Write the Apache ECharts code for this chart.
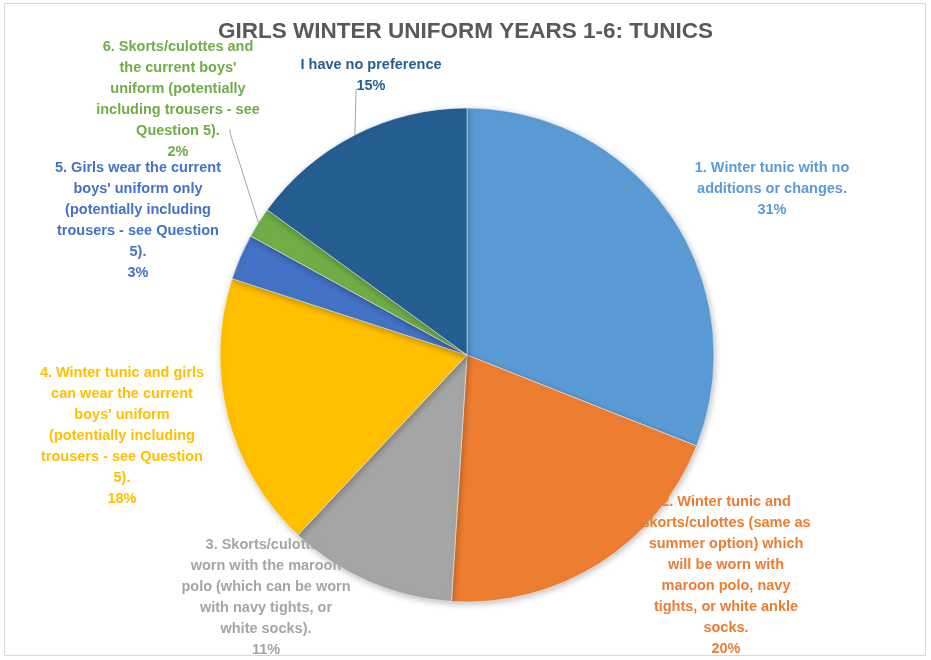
<!DOCTYPE html>
<html>
<head>
<meta charset="utf-8">
<script src="https://cdn.jsdelivr.net/npm/echarts@6/dist/echarts.min.js"></script>
<style>
html,body{margin:0;padding:0;background:#fff;}
#chart{width:931px;height:660px;}
</style>
</head>
<body>
<div id="chart"></div>
<script>
const title = 'GIRLS WINTER UNIFORM YEARS 1-6: TUNICS';
const categories = [
  '1. Winter tunic with no\nadditions or changes.',
  '2. Winter tunic and\nskorts/culottes (same as\nsummer option) which\nwill be worn with\nmaroon polo, navy\ntights, or white ankle\nsocks.',
  '3. Skorts/culottes\nworn with the maroon\npolo (which can be worn\nwith navy tights, or\nwhite socks).',
  '4. Winter tunic and girls\ncan wear the current\nboys\' uniform\n(potentially including\ntrousers - see Question\n5).',
  '5. Girls wear the current\nboys\' uniform only\n(potentially including\ntrousers - see Question\n5).',
  '6. Skorts/culottes and\nthe current boys\'\nuniform (potentially\nincluding trousers - see\nQuestion 5).',
  'I have no preference'
];
const values = [31, 20, 11, 18, 3, 2, 15];
const colors = ['#5B9BD5', '#ED7D31', '#A5A5A5', '#FFC000', '#4472C4', '#70AD47', '#255E91'];

// layout only: label box centres and leader-line end points
const labelPos = [[772,188.5],[726,575],[266,597],[122,436],[138,220.5],[178,99],[371,75.5]];
const leaderEnd = [null,null,null,null,null,[230,128],[356,88]];

const PIE_CENTER = [467, 355];
const PIE_R = 247;

const chart = echarts.init(document.getElementById('chart'));
chart.setOption({
  backgroundColor: '#fff',
  animation: false,
  title: {
    text: title,
    left: 'center',
    top: 15,
    textStyle: {fontFamily: 'Liberation Sans', fontWeight: 'bold', fontSize: 22.5, color: '#595959'}
  },
  graphic: [{
    type: 'rect',
    shape: {x: 4.5, y: 3.5, width: 921, height: 652},
    style: {fill: 'none', stroke: '#d9d9d9', lineWidth: 1},
    silent: true
  }],
  series: [{
    type: 'pie',
    center: PIE_CENTER,
    radius: PIE_R,
    startAngle: 90,
    clockwise: true,
    avoidLabelOverlap: false,
    data: categories.map((c, i) => ({
      name: c,
      value: values[i],
      itemStyle: {color: colors[i]},
      label: {color: colors[i]}
    })),
    itemStyle: {
      borderColor: '#fff', borderWidth: 0.5,
      shadowBlur: 6, shadowColor: 'rgba(0,0,0,0.25)', shadowOffsetX: 1, shadowOffsetY: 2
    },
    label: {
      show: true,
      position: 'outside',
      formatter: '{b}\n{d}%',
      fontFamily: 'Liberation Sans',
      fontWeight: 'bold',
      fontSize: 14.5,
      lineHeight: 21,
      align: 'center'
    },
    labelLine: {show: false},
    labelLayout: function (p) {
      const pos = labelPos[p.dataIndex];
      return {x: pos[0], y: pos[1], align: 'center', verticalAlign: 'middle'};
    },
    emphasis: {disabled: true}
  }, {
    // invisible twin used only to draw leader lines
    type: 'pie',
    center: PIE_CENTER,
    radius: PIE_R,
    startAngle: 90,
    clockwise: true,
    silent: true,
    avoidLabelOverlap: false,
    z: 3,
    data: categories.map((c, i) => ({
      name: c,
      value: values[i],
      label: {show: !!leaderEnd[i]},
      labelLine: {show: !!leaderEnd[i]}
    })),
    itemStyle: {color: 'rgba(0,0,0,0)', borderWidth: 0},
    label: {
      show: true,
      position: 'outside',
      formatter: ' ',
      fontSize: 2
    },
    labelLine: {
      length: 5, length2: 4,
      lineStyle: {color: '#a6a6a6', width: 1}
    },
    labelLayout: function (p) {
      const pos = leaderEnd[p.dataIndex] || [0, 0];
      return {x: pos[0], y: pos[1], align: 'center', verticalAlign: 'middle'};
    },
    emphasis: {disabled: true}
  }]
});
</script>
</body>
</html>
